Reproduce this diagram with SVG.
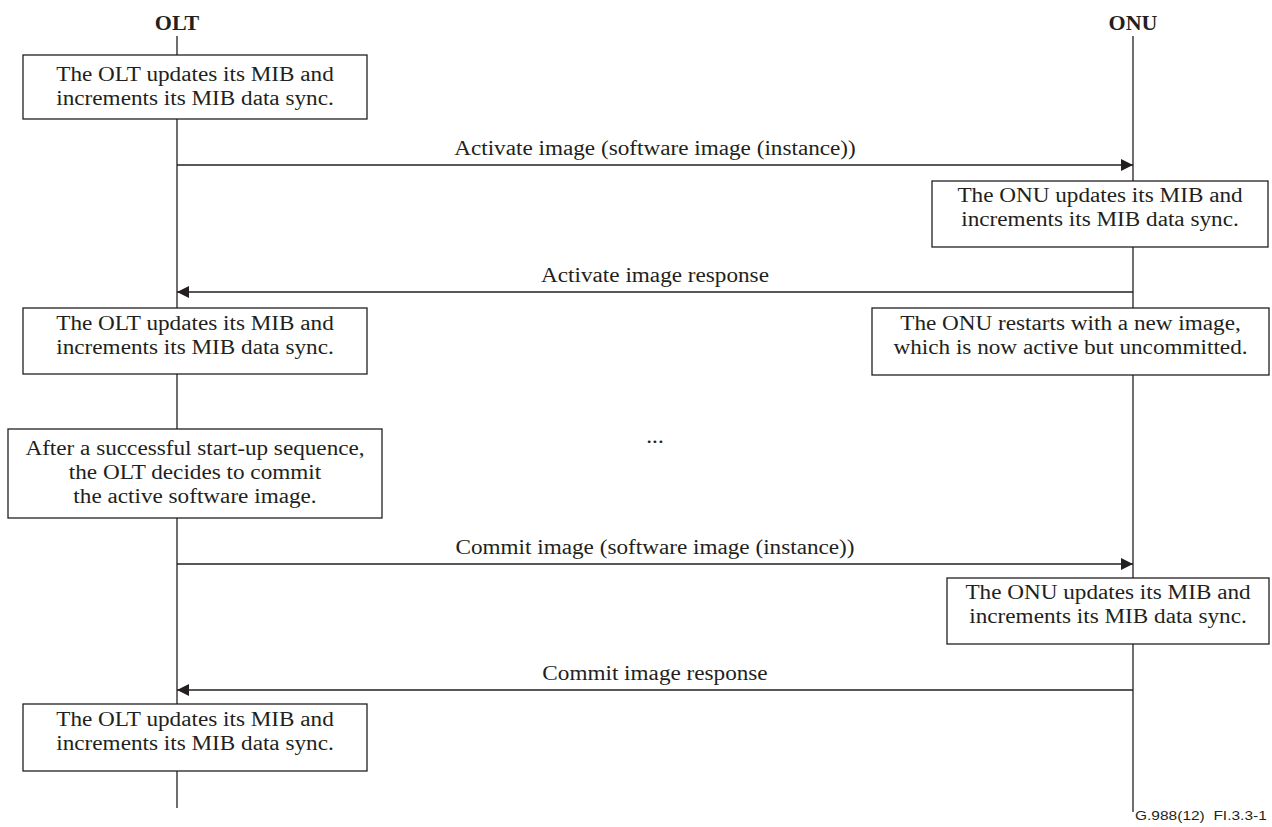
<svg xmlns="http://www.w3.org/2000/svg" width="1272" height="827" viewBox="0 0 1272 827">
<style>
.ll{stroke:#231f20;stroke-width:1.3;fill:none}
.box{fill:#fff;stroke:#231f20;stroke-width:1.3}
.msg{stroke:#231f20;stroke-width:1.3;fill:none}
.t{font-family:"Liberation Serif","Times New Roman",serif;font-size:20px;fill:#231f20;text-anchor:middle}
.h{font-family:"Liberation Serif","Times New Roman",serif;font-size:22px;font-weight:bold;fill:#231f20;text-anchor:middle}
.f{font-family:"Liberation Sans",Arial,sans-serif;font-size:12.5px;fill:#231f20}
</style>
<defs>
<marker id="ah" markerWidth="12" markerHeight="12" refX="12" refY="6" orient="auto" markerUnits="userSpaceOnUse">
<path d="M0,0 L12,6 L0,12 Z" fill="#231f20"/>
</marker>
</defs>
<rect width="1272" height="827" fill="#fff"/>

<g id="lifelines">
<text class="h" x="177" y="30">OLT</text>
<line class="ll" x1="177" y1="36" x2="177" y2="808"/>
<text class="h" x="1133" y="30">ONU</text>
<line class="ll" x1="1133" y1="36" x2="1133" y2="812"/>
</g>

<g id="connectors">
<line class="msg" x1="177" y1="165" x2="1133" y2="165" marker-end="url(#ah)"/>
<line class="msg" x1="1133" y1="292" x2="177" y2="292" marker-end="url(#ah)"/>
<line class="msg" x1="177" y1="564" x2="1133" y2="564" marker-end="url(#ah)"/>
<line class="msg" x1="1133" y1="690" x2="177" y2="690" marker-end="url(#ah)"/>
<g transform="translate(655,0) scale(1.16,1)">
<text class="t" x="0" y="155">Activate image (software image (instance))</text>
<text class="t" x="0" y="282">Activate image response</text>
<text class="t" x="0" y="554">Commit image (software image (instance))</text>
<text class="t" x="0" y="680">Commit image response</text>
<text class="t" x="0" y="443">...</text>
</g>
</g>

<g id="olt1">
<rect class="box" x="23" y="55" width="344" height="64"/>
<g transform="translate(195,0) scale(1.16,1)">
<text class="t" x="0" y="81">The OLT updates its MIB and</text>
<text class="t" x="0" y="105">increments its MIB data sync.</text>
</g>
</g>

<g id="onu1">
<rect class="box" x="932" y="181" width="336" height="66"/>
<g transform="translate(1100,0) scale(1.16,1)">
<text class="t" x="0" y="202">The ONU updates its MIB and</text>
<text class="t" x="0" y="226">increments its MIB data sync.</text>
</g>
</g>

<g id="olt2">
<rect class="box" x="23" y="308" width="344" height="66"/>
<g transform="translate(195,0) scale(1.16,1)">
<text class="t" x="0" y="330">The OLT updates its MIB and</text>
<text class="t" x="0" y="354">increments its MIB data sync.</text>
</g>
</g>

<g id="onu2">
<rect class="box" x="872" y="308" width="397" height="67"/>
<g transform="translate(1070.5,0) scale(1.16,1)">
<text class="t" x="0" y="330">The ONU restarts with a new image,</text>
<text class="t" x="0" y="354">which is now active but uncommitted.</text>
</g>
</g>

<g id="olt3">
<rect class="box" x="8" y="429" width="374" height="89"/>
<g transform="translate(195,0) scale(1.16,1)">
<text class="t" x="0" y="455">After a successful start-up sequence,</text>
<text class="t" x="0" y="479">the OLT decides to commit</text>
<text class="t" x="0" y="503">the active software image.</text>
</g>
</g>

<g id="onu3">
<rect class="box" x="947" y="578" width="322" height="66"/>
<g transform="translate(1108,0) scale(1.16,1)">
<text class="t" x="0" y="599">The ONU updates its MIB and</text>
<text class="t" x="0" y="623">increments its MIB data sync.</text>
</g>
</g>

<g id="olt4">
<rect class="box" x="23" y="704" width="344" height="67"/>
<g transform="translate(195,0) scale(1.16,1)">
<text class="t" x="0" y="726">The OLT updates its MIB and</text>
<text class="t" x="0" y="750">increments its MIB data sync.</text>
</g>
</g>

<g id="footnote" transform="translate(1135,0) scale(1.24,1)">
<text class="f" x="0" y="820" xml:space="preserve">G.988(12)  FI.3.3-1</text>
</g>
</svg>
